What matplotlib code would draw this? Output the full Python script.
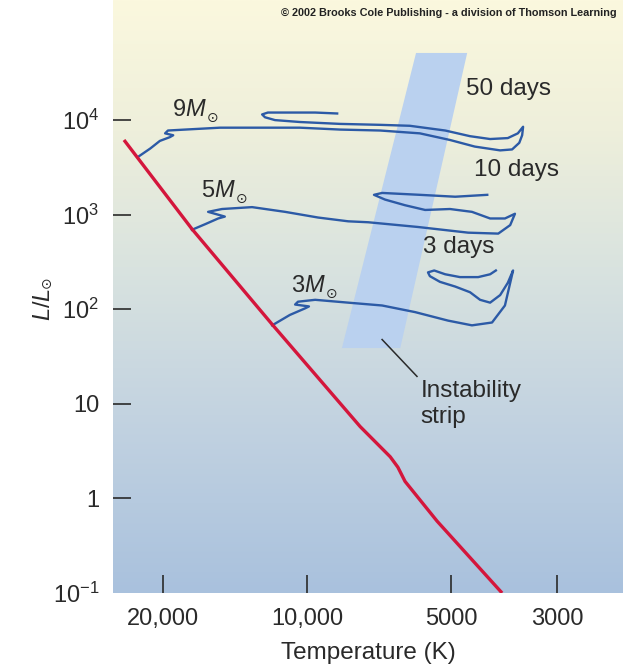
import matplotlib
matplotlib.use('Agg')

import matplotlib.pyplot as plt
import numpy as np
from matplotlib.colors import LinearSegmentedColormap
from matplotlib.ticker import NullLocator

plt.rcParams['font.family'] = ['Liberation Sans', 'DejaVu Sans']
plt.rcParams['mathtext.fontset'] = 'custom'
plt.rcParams['mathtext.rm'] = 'Liberation Sans'
plt.rcParams['mathtext.it'] = 'Liberation Sans:italic'

# main sequence (log Teff, log L/Lsun)
ms_logT = [4.383, 4.241, 4.073, 3.889, 3.826, 3.810, 3.795, 3.728, 3.592]
ms_logL = [3.79, 2.85, 1.84, 0.76, 0.44, 0.33, 0.18, -0.24, -1.00]

# evolutionary tracks
track9_logT = [4.354, 4.328, 4.308, 4.287, 4.280, 4.297, 4.291, 4.255, 4.182, 4.098,
               4.015, 3.931, 3.847, 3.764, 3.701, 3.649, 3.596, 3.571, 3.556, 3.550,
               3.548, 3.559, 3.580, 3.617, 3.659, 3.711, 3.785, 3.847, 3.931, 4.015,
               4.067, 4.088, 4.094, 4.082, 4.036, 3.983, 3.937]
track9_logL = [3.61, 3.70, 3.78, 3.82, 3.84, 3.86, 3.89, 3.90, 3.92, 3.92,
               3.92, 3.90, 3.89, 3.86, 3.79, 3.72, 3.68, 3.69, 3.76, 3.84,
               3.93, 3.86, 3.81, 3.80, 3.83, 3.89, 3.94, 3.95, 3.96, 3.98,
               4.00, 4.03, 4.06, 4.08, 4.08, 4.08, 4.07]

track5_logT = [4.241, 4.213, 4.186, 4.172, 4.207, 4.178, 4.115, 4.046, 3.977, 3.914,
               3.872, 3.768, 3.663, 3.600, 3.575, 3.565, 3.586, 3.617, 3.655, 3.701,
               3.753, 3.795, 3.837, 3.860, 3.843, 3.764, 3.690, 3.623]
track5_logL = [2.84, 2.90, 2.96, 2.98, 3.03, 3.06, 3.08, 3.03, 2.97, 2.93,
               2.92, 2.87, 2.81, 2.80, 2.89, 3.01, 2.96, 2.96, 3.03, 3.06,
               3.05, 3.10, 3.16, 3.21, 3.23, 3.21, 3.19, 3.21]

track3_logT = [4.073, 4.036, 4.004, 3.996, 4.025, 4.019, 3.983, 3.914, 3.843, 3.774,
               3.705, 3.655, 3.613, 3.586, 3.569, 3.580, 3.596, 3.617, 3.638, 3.659,
               3.690, 3.722, 3.743, 3.747, 3.734, 3.711, 3.680, 3.642, 3.617, 3.605]
track3_logL = [1.83, 1.94, 2.01, 2.03, 2.05, 2.08, 2.10, 2.07, 2.04, 1.97,
               1.88, 1.83, 1.86, 2.04, 2.41, 2.28, 2.15, 2.07, 2.10, 2.18,
               2.24, 2.29, 2.35, 2.39, 2.41, 2.37, 2.34, 2.34, 2.37, 2.41]

mass_labels = ['9', '5', '3']
mass_logT = [4.282, 4.222, 4.033]
mass_logL = [4.11, 3.25, 2.25]

period_labels = ['50 days', '10 days', '3 days']
period_logT = [3.667, 3.651, 3.757]
period_logL = [4.33, 3.47, 2.66]

# instability strip corners
strip_logT = [3.772, 3.665, 3.805, 3.927]
strip_logL = [4.71, 4.71, 1.59, 1.59]
pointer_logT = [3.843, 3.770]
pointer_logL = [1.68, 1.29]

xticks = [20000, 10000, 5000, 3000]
xticklabels = ['20,000', '10,000', '5000', '3000']
yticks = [0.1, 1, 10, 100, 1000, 10000]
yticklabels = [r'$\mathregular{10^{-1}}$', '1', '10', r'$\mathregular{10^2}$',
               r'$\mathregular{10^3}$', r'$\mathregular{10^4}$']

blue = '#2c5aa6'
red = '#d4163c'
ink = '#2a2a2a'
sun = '\u2299'

fig = plt.figure(figsize=(6.23, 6.69), dpi=100)
ax = fig.add_axes([113 / 623, 76 / 669, 510 / 623, 593 / 669])

bg = LinearSegmentedColormap.from_list('bg', [(0.0, '#a9c1dd'), (0.3, '#c3d3e1'),
                                              (0.55, '#d9e3df'), (0.78, '#eeefdb'),
                                              (1.0, '#fbf8de')])
ax.imshow(np.linspace(0, 1, 256).reshape(-1, 1), extent=[0, 1, 0, 1], transform=ax.transAxes,
          aspect='auto', origin='lower', cmap=bg, zorder=0)

ax.set_xscale('log')
ax.set_yscale('log')

ax.fill(10 ** np.array(strip_logT), 10 ** np.array(strip_logL), color='#bad1ef', lw=0, zorder=1)
ax.plot(10 ** np.array(pointer_logT), 10 ** np.array(pointer_logL), color=ink, lw=1.1, zorder=2)

ax.plot(10 ** np.array(ms_logT), 10 ** np.array(ms_logL), color=red, lw=2.4, zorder=4,
        solid_capstyle='butt')

for tT, tL in ((track9_logT, track9_logL), (track5_logT, track5_logL), (track3_logT, track3_logL)):
    ax.plot(10 ** np.array(tT), 10 ** np.array(tL), color=blue, lw=1.7, zorder=3,
            solid_joinstyle='round')

for lab, tT, tL in zip(mass_labels, mass_logT, mass_logL):
    t = ax.text(10 ** tT, 10 ** tL, lab + r'$\mathit{M}$', fontsize=17, color=ink,
                ha='left', va='center', zorder=5)
    ax.annotate(sun, xy=(1.0, 0.12), xycoords=t, fontsize=10, color=ink,
                family='DejaVu Sans', ha='left', va='center', zorder=5)

for lab, tT, tL in zip(period_labels, period_logT, period_logL):
    ax.text(10 ** tT, 10 ** tL, lab, fontsize=17.5, color=ink, ha='left', va='center', zorder=5)

ax.text(10 ** 3.762, 10 ** 1.0, 'Instability\nstrip', fontsize=17.5, color=ink,
        ha='left', va='center', linespacing=1.2, zorder=5)

ax.set_xlim(10 ** 4.406, 10 ** 3.339)
ax.set_ylim(0.1, 10 ** 5.27)

ax.set_xticks(xticks)
ax.set_xticklabels(xticklabels)
ax.set_yticks(yticks)
ax.set_yticklabels(yticklabels)
ax.xaxis.set_minor_locator(NullLocator())
ax.yaxis.set_minor_locator(NullLocator())
ax.tick_params(direction='in', length=13, width=1.2, color=ink, labelcolor=ink, labelsize=17)
ax.tick_params(axis='x', pad=11)
ax.tick_params(axis='y', pad=10)
ax.yaxis.get_major_ticks()[0].tick1line.set_visible(False)

for s in ax.spines.values():
    s.set_visible(False)

ax.set_xlabel('Temperature (K)', fontsize=17.5, color=ink)
ax.xaxis.set_label_coords(0.5, -0.082)
ylab = ax.set_ylabel(r'$\mathit{L/L}$', fontsize=17, color=ink)
ax.yaxis.set_label_coords(-0.114, 0.487)
ax.annotate(sun, xy=(0.62, 1.0), xycoords=ylab, fontsize=10, color=ink, rotation=90,
            family='DejaVu Sans', ha='center', va='bottom')

fig.text(281 / 623, 1 - 13 / 669, '\u00a9 2002 Brooks Cole Publishing - a division of Thomson Learning',
         fontsize=7.8, fontweight='bold', color='#222222', ha='left', va='center')

fig.savefig('out.png', dpi=100)
